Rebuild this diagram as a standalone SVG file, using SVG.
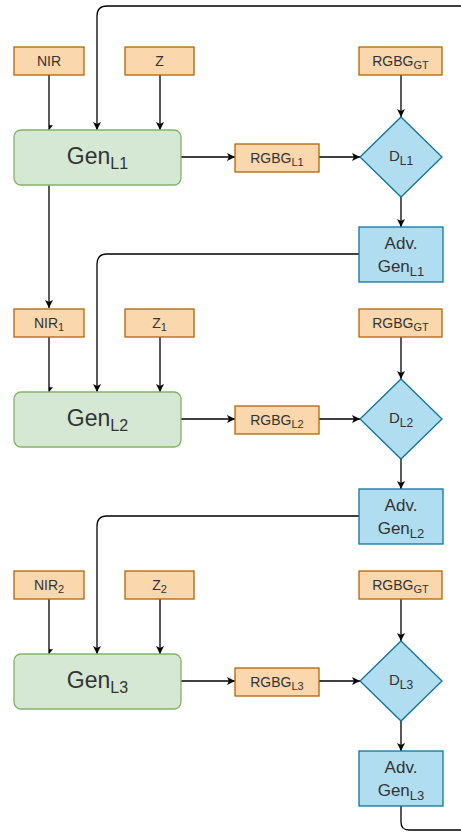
<svg xmlns="http://www.w3.org/2000/svg" width="461" height="832" viewBox="0 0 461 832">
<style>
.org{fill:#fad7ac;stroke:#b46504;stroke-width:1.3}
.grn{fill:#d5e8d4;stroke:#82b366;stroke-width:1.3}
.blu{fill:#b1ddf0;stroke:#10739e;stroke-width:1.3}
text{font-family:"Liberation Sans",Arial,sans-serif;fill:#333;text-anchor:middle}
.s{font-size:14px}
.s tspan{font-size:11px}
.g{font-size:23px}
.g tspan{font-size:16px}
.a{font-size:17px}
.a tspan{font-size:13px}
.d{font-size:15px}
.d tspan{font-size:12px}
.c{fill:none;stroke:#000;stroke-width:1.3}
</style>
<defs>
<marker id="ar" viewBox="0 0 10 10" refX="10" refY="5" markerWidth="8" markerHeight="8" markerUnits="userSpaceOnUse" orient="auto">
<path d="M0,0 L10,5 L0,10 L2.5,5 Z" fill="#000"/>
</marker>
<marker id="half" viewBox="0 0 10 10" refX="10" refY="5" markerWidth="8" markerHeight="8" markerUnits="userSpaceOnUse" orient="auto">
<path d="M4,5 L10,5 L4,0 Z" fill="#000"/>
</marker>
</defs>
<g id="connectors">
<path class="c" d="M461,6 L107,6 Q97,6 97,16 L97,130" marker-end="url(#ar)"/>
<path class="c" d="M49,75 L49,130" marker-end="url(#half)"/>
<path class="c" d="M160,75 L160,130" marker-end="url(#ar)"/>
<path class="c" d="M181,157 L235,157" marker-end="url(#ar)"/>
<path class="c" d="M319,157 L360,157" marker-end="url(#ar)"/>
<path class="c" d="M401,75 L401,117" marker-end="url(#ar)"/>
<path class="c" d="M401,197 L401,227" marker-end="url(#ar)"/>
<path class="c" d="M49,185 L49,308" marker-end="url(#ar)"/>
<path class="c" d="M359,254 L107,254 Q97,254 97,264 L97,392" marker-end="url(#ar)"/>
<path class="c" d="M49,337 L49,392" marker-end="url(#half)"/>
<path class="c" d="M160,337 L160,392" marker-end="url(#ar)"/>
<path class="c" d="M181,419 L235,419" marker-end="url(#ar)"/>
<path class="c" d="M319,419 L360,419" marker-end="url(#ar)"/>
<path class="c" d="M401,337 L401,379" marker-end="url(#ar)"/>
<path class="c" d="M401,459 L401,489" marker-end="url(#ar)"/>
<path class="c" d="M359,516 L107,516 Q97,516 97,526 L97,654" marker-end="url(#ar)"/>
<path class="c" d="M49,599 L49,654" marker-end="url(#half)"/>
<path class="c" d="M160,599 L160,654" marker-end="url(#ar)"/>
<path class="c" d="M181,681 L235,681" marker-end="url(#ar)"/>
<path class="c" d="M319,681 L360,681" marker-end="url(#ar)"/>
<path class="c" d="M401,599 L401,641" marker-end="url(#ar)"/>
<path class="c" d="M401,721 L401,751" marker-end="url(#ar)"/>
<path class="c" d="M401,806 L401,822 Q401,830 409,830 L461,830"/>
</g>
<g id="nir"><rect class="org" x="14" y="47" width="70" height="28"/><text class="s" x="49" y="66">NIR</text></g>
<g id="z"><rect class="org" x="125" y="47" width="69" height="28"/><text class="s" x="159.5" y="66">Z</text></g>
<g id="gt1"><rect class="org" x="359" y="47" width="83" height="28"/><text class="s" x="400.5" y="66">RGBG<tspan dy="3">GT</tspan></text></g>
<g id="gen1"><rect class="grn" x="14" y="130" width="167" height="55" rx="7"/><text class="g" x="97.5" y="164">Gen<tspan dy="5">L1</tspan></text></g>
<g id="rgbg1"><rect class="org" x="235" y="144" width="84" height="28"/><text class="s" x="277" y="163">RGBG<tspan dy="3">L1</tspan></text></g>
<g id="d1"><path class="blu" d="M401,117 L442,157 L401,197 L360,157 Z"/><text class="d" x="401" y="161">D<tspan dy="4">L1</tspan></text></g>
<g id="adv1"><rect class="blu" x="359" y="227" width="84" height="55"/><text class="a" x="401" y="249">Adv.</text><text class="a" x="401" y="272">Gen<tspan dy="4">L1</tspan></text></g>

<g id="nir1"><rect class="org" x="14" y="309" width="70" height="28"/><text class="s" x="49" y="328">NIR<tspan dy="3">1</tspan></text></g>
<g id="z1"><rect class="org" x="125" y="309" width="69" height="28"/><text class="s" x="159.5" y="328">Z<tspan dy="3">1</tspan></text></g>
<g id="gt2"><rect class="org" x="359" y="309" width="83" height="28"/><text class="s" x="400.5" y="328">RGBG<tspan dy="3">GT</tspan></text></g>
<g id="gen2"><rect class="grn" x="14" y="392" width="167" height="55" rx="7"/><text class="g" x="97.5" y="426">Gen<tspan dy="5">L2</tspan></text></g>
<g id="rgbg2"><rect class="org" x="235" y="406" width="84" height="28"/><text class="s" x="277" y="425">RGBG<tspan dy="3">L2</tspan></text></g>
<g id="d2"><path class="blu" d="M401,379 L442,419 L401,459 L360,419 Z"/><text class="d" x="401" y="423">D<tspan dy="4">L2</tspan></text></g>
<g id="adv2"><rect class="blu" x="359" y="489" width="84" height="55"/><text class="a" x="401" y="511">Adv.</text><text class="a" x="401" y="534">Gen<tspan dy="4">L2</tspan></text></g>

<g id="nir2"><rect class="org" x="14" y="571" width="70" height="28"/><text class="s" x="49" y="590">NIR<tspan dy="3">2</tspan></text></g>
<g id="z2"><rect class="org" x="125" y="571" width="69" height="28"/><text class="s" x="159.5" y="590">Z<tspan dy="3">2</tspan></text></g>
<g id="gt3"><rect class="org" x="359" y="571" width="83" height="28"/><text class="s" x="400.5" y="590">RGBG<tspan dy="3">GT</tspan></text></g>
<g id="gen3"><rect class="grn" x="14" y="654" width="167" height="55" rx="7"/><text class="g" x="97.5" y="688">Gen<tspan dy="5">L3</tspan></text></g>
<g id="rgbg3"><rect class="org" x="235" y="668" width="84" height="28"/><text class="s" x="277" y="687">RGBG<tspan dy="3">L3</tspan></text></g>
<g id="d3"><path class="blu" d="M401,641 L442,681 L401,721 L360,681 Z"/><text class="d" x="401" y="685">D<tspan dy="4">L3</tspan></text></g>
<g id="adv3"><rect class="blu" x="359" y="751" width="84" height="55"/><text class="a" x="401" y="773">Adv.</text><text class="a" x="401" y="796">Gen<tspan dy="4">L3</tspan></text></g>
</svg>
